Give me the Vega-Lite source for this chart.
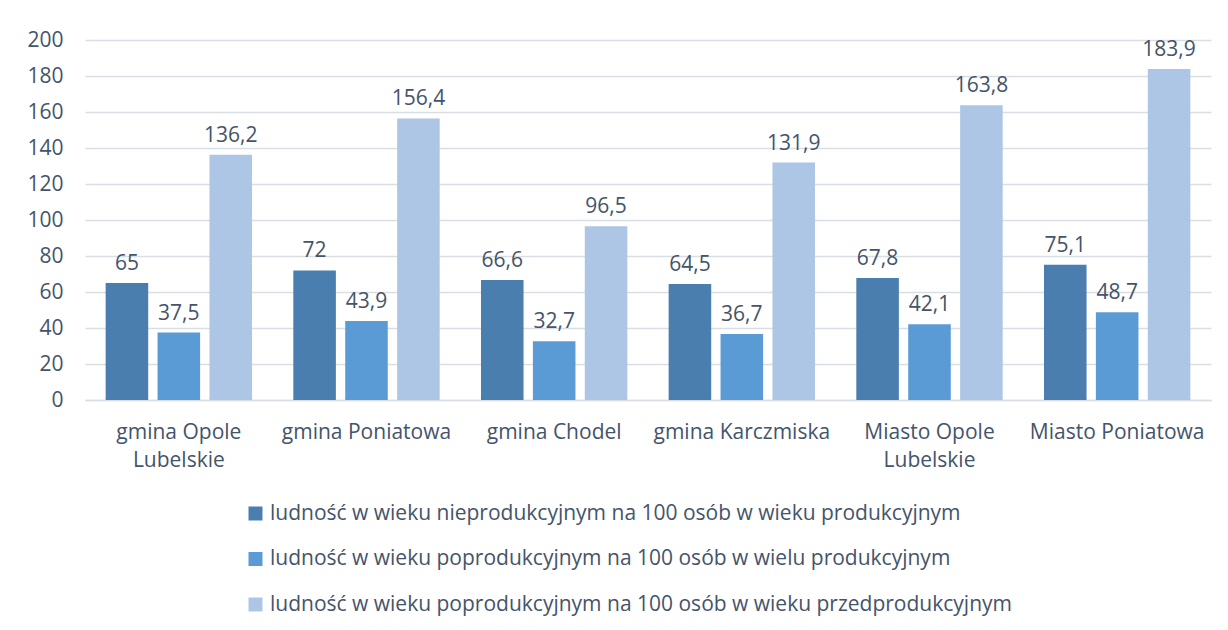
{
  "$schema": "https://vega.github.io/schema/vega-lite/v6.json",
  "width": 1126,
  "height": 360,
  "autosize": {"type": "none"},
  "padding": {"left": 85, "top": 40, "right": 17, "bottom": 230},
  "background": "white",
  "config": {
    "locale": {"number": {"decimal": ",", "thousands": " ", "grouping": [3], "currency": ["", " zł"]}},
    "view": {"stroke": null},
    "font": "Open Sans"
  },
  "data": {"values": [
    {"gmina": "gmina Opole Lubelskie", "seria": "ludność w wieku nieprodukcyjnym na 100 osób w wieku produkcyjnym", "wartosc": 65},
    {"gmina": "gmina Opole Lubelskie", "seria": "ludność w wieku poprodukcyjnym na 100 osób w wielu produkcyjnym", "wartosc": 37.5},
    {"gmina": "gmina Opole Lubelskie", "seria": "ludność w wieku poprodukcyjnym na 100 osób w wieku przedprodukcyjnym", "wartosc": 136.2},
    {"gmina": "gmina Poniatowa", "seria": "ludność w wieku nieprodukcyjnym na 100 osób w wieku produkcyjnym", "wartosc": 72},
    {"gmina": "gmina Poniatowa", "seria": "ludność w wieku poprodukcyjnym na 100 osób w wielu produkcyjnym", "wartosc": 43.9},
    {"gmina": "gmina Poniatowa", "seria": "ludność w wieku poprodukcyjnym na 100 osób w wieku przedprodukcyjnym", "wartosc": 156.4},
    {"gmina": "gmina Chodel", "seria": "ludność w wieku nieprodukcyjnym na 100 osób w wieku produkcyjnym", "wartosc": 66.6},
    {"gmina": "gmina Chodel", "seria": "ludność w wieku poprodukcyjnym na 100 osób w wielu produkcyjnym", "wartosc": 32.7},
    {"gmina": "gmina Chodel", "seria": "ludność w wieku poprodukcyjnym na 100 osób w wieku przedprodukcyjnym", "wartosc": 96.5},
    {"gmina": "gmina Karczmiska", "seria": "ludność w wieku nieprodukcyjnym na 100 osób w wieku produkcyjnym", "wartosc": 64.5},
    {"gmina": "gmina Karczmiska", "seria": "ludność w wieku poprodukcyjnym na 100 osób w wielu produkcyjnym", "wartosc": 36.7},
    {"gmina": "gmina Karczmiska", "seria": "ludność w wieku poprodukcyjnym na 100 osób w wieku przedprodukcyjnym", "wartosc": 131.9},
    {"gmina": "Miasto Opole Lubelskie", "seria": "ludność w wieku nieprodukcyjnym na 100 osób w wieku produkcyjnym", "wartosc": 67.8},
    {"gmina": "Miasto Opole Lubelskie", "seria": "ludność w wieku poprodukcyjnym na 100 osób w wielu produkcyjnym", "wartosc": 42.1},
    {"gmina": "Miasto Opole Lubelskie", "seria": "ludność w wieku poprodukcyjnym na 100 osób w wieku przedprodukcyjnym", "wartosc": 163.8},
    {"gmina": "Miasto Poniatowa", "seria": "ludność w wieku nieprodukcyjnym na 100 osób w wieku produkcyjnym", "wartosc": 75.1},
    {"gmina": "Miasto Poniatowa", "seria": "ludność w wieku poprodukcyjnym na 100 osób w wielu produkcyjnym", "wartosc": 48.7},
    {"gmina": "Miasto Poniatowa", "seria": "ludność w wieku poprodukcyjnym na 100 osób w wieku przedprodukcyjnym", "wartosc": 183.9}
  ]},
  "encoding": {
    "x": {
      "field": "gmina", "type": "nominal", "sort": null, "title": null,
      "scale": {"paddingInner": 0.22, "paddingOuter": 0.11},
      "axis": {
        "labelAngle": 0, "labelFontSize": 21, "labelColor": "#44546a", "labelPadding": 21,
        "ticks": false, "domainColor": "#d9dde4", "domainWidth": 1.5, "labelLineHeight": 28,
        "labelLimit": 300,
        "labelExpr": "indexof(datum.value, 'Opole Lubelskie') >= 0 ? [replace(datum.value, ' Lubelskie', ''), 'Lubelskie'] : datum.value"
      }
    },
    "xOffset": {
      "field": "seria", "type": "nominal", "sort": null,
      "scale": {"paddingInner": 0.18}
    },
    "y": {
      "field": "wartosc", "type": "quantitative", "title": null,
      "scale": {"domain": [0, 200]},
      "axis": {
        "values": [0, 20, 40, 60, 80, 100, 120, 140, 160, 180, 200],
        "labelFontSize": 21, "labelColor": "#44546a", "labelPadding": 22,
        "ticks": false, "domain": false, "gridColor": "#d9dde4", "gridWidth": 1.5
      }
    }
  },
  "layer": [
    {
      "mark": {"type": "bar"},
      "encoding": {
        "color": {
          "field": "seria", "type": "nominal", "sort": null,
          "scale": {
            "domain": [
              "ludność w wieku nieprodukcyjnym na 100 osób w wieku produkcyjnym",
              "ludność w wieku poprodukcyjnym na 100 osób w wielu produkcyjnym",
              "ludność w wieku poprodukcyjnym na 100 osób w wieku przedprodukcyjnym"
            ],
            "range": ["#4a7eae", "#5b9bd5", "#adc6e5"]
          },
          "legend": {
            "title": null, "orient": "none", "direction": "vertical",
            "legendX": 160, "legendY": 463,
            "symbolType": "square", "symbolSize": 196, "symbolStrokeWidth": 0,
            "labelFontSize": 21, "labelColor": "#44546a", "labelLimit": 900,
            "rowPadding": 23.5, "labelOffset": 4
          }
        }
      }
    },
    {
      "mark": {"type": "text", "baseline": "bottom", "dy": -9, "fontSize": 21, "color": "#44546a"},
      "encoding": {
        "text": {"field": "wartosc", "type": "quantitative", "format": ".1~f"}
      }
    }
  ]
}
